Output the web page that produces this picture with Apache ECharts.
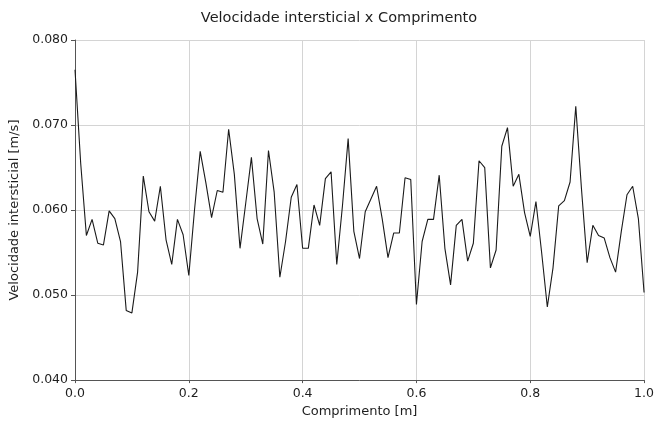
<!DOCTYPE html>
<html>
<head>
<meta charset="utf-8">
<script src="https://cdn.jsdelivr.net/npm/echarts@6/dist/echarts.min.js"></script>
<style>
  html, body { margin: 0; padding: 0; background: #fff; }
  #chart { width: 657px; height: 423px; }
</style>
</head>
<body>
<div id="chart"></div>
<script>
// Interstitial velocity sampled every 0.01 m along the column
const comprimento = Array.from({ length: 101 }, (_, i) => +(i * 0.01).toFixed(2));
const velocidade = [
  0.0765, 0.0655, 0.0570, 0.0589, 0.0561, 0.0559, 0.0599, 0.0590, 0.0563, 0.0482,
  0.0479, 0.0527, 0.0640, 0.0598, 0.0587, 0.0628, 0.0565, 0.0536, 0.0589, 0.0571,
  0.0523, 0.0600, 0.0669, 0.0632, 0.0591, 0.0623, 0.0621, 0.0695, 0.0642, 0.0555,
  0.0608, 0.0662, 0.0590, 0.0560, 0.0670, 0.0621, 0.0521, 0.0563, 0.0615, 0.0630,
  0.0555, 0.0555, 0.0606, 0.0582, 0.0637, 0.0645, 0.0536, 0.0605, 0.0684, 0.0575,
  0.0543, 0.0598, 0.0613, 0.0628, 0.0589, 0.0544, 0.0573, 0.0573, 0.0638, 0.0636,
  0.0489, 0.0563, 0.0589, 0.0589, 0.0641, 0.0555, 0.0512, 0.0582, 0.0589, 0.0540,
  0.0561, 0.0658, 0.0650, 0.0532, 0.0553, 0.0675, 0.0697, 0.0628, 0.0642, 0.0597,
  0.0569, 0.0610, 0.0550, 0.0486, 0.0532, 0.0605, 0.0611, 0.0633, 0.0722, 0.0625,
  0.0538, 0.0582, 0.0570, 0.0567, 0.0544, 0.0527, 0.0575, 0.0618, 0.0628, 0.0590,
  0.0503
];

const font = 'DejaVu Sans';
const chart = echarts.init(document.getElementById('chart'), null, { renderer: 'canvas' });

chart.setOption({
  animation: false,
  backgroundColor: '#ffffff',
  title: {
    text: 'Velocidade intersticial x Comprimento',
    left: 334,
    top: 6,
    textAlign: 'center',
    textStyle: { fontFamily: font, fontSize: 14.5, fontWeight: 'normal', color: '#1e1e1e' }
  },
  grid: { left: 75, right: 12, top: 40, bottom: 40, containLabel: false },
  xAxis: {
    type: 'value',
    min: 0,
    max: 1,
    interval: 0.2,
    name: 'Comprimento [m]',
    nameLocation: 'middle',
    nameGap: 22,
    nameTextStyle: { fontFamily: font, fontSize: 13, color: '#1e1e1e' },
    axisLine: { show: true, onZero: false, lineStyle: { color: '#555', width: 1 } },
    axisTick: { show: true, length: 3, lineStyle: { color: '#555' } },
    axisLabel: {
      fontFamily: font, fontSize: 12.5, color: '#1e1e1e', margin: 7,
      formatter: v => v.toFixed(1)
    },
    splitLine: { show: true, lineStyle: { color: '#d4d4d4', width: 1 } }
  },
  yAxis: {
    type: 'value',
    min: 0.04,
    max: 0.08,
    interval: 0.01,
    name: 'Velocidade intersticial [m/s]',
    nameLocation: 'middle',
    nameGap: 47,
    nameTextStyle: { fontFamily: font, fontSize: 13, color: '#1e1e1e' },
    axisLine: { show: true, lineStyle: { color: '#555', width: 1 } },
    axisTick: { show: true, length: 4, lineStyle: { color: '#555' } },
    axisLabel: {
      fontFamily: font, fontSize: 12.5, color: '#1e1e1e', margin: 7,
      formatter: v => v.toFixed(3)
    },
    splitLine: { show: true, lineStyle: { color: '#d4d4d4', width: 1 } }
  },
  series: [{
    type: 'line',
    data: comprimento.map((x, i) => [x, velocidade[i]]),
    showSymbol: false,
    lineStyle: { color: '#1a1a1a', width: 1.1 },
    z: 3
  }]
});
</script>
</body>
</html>
